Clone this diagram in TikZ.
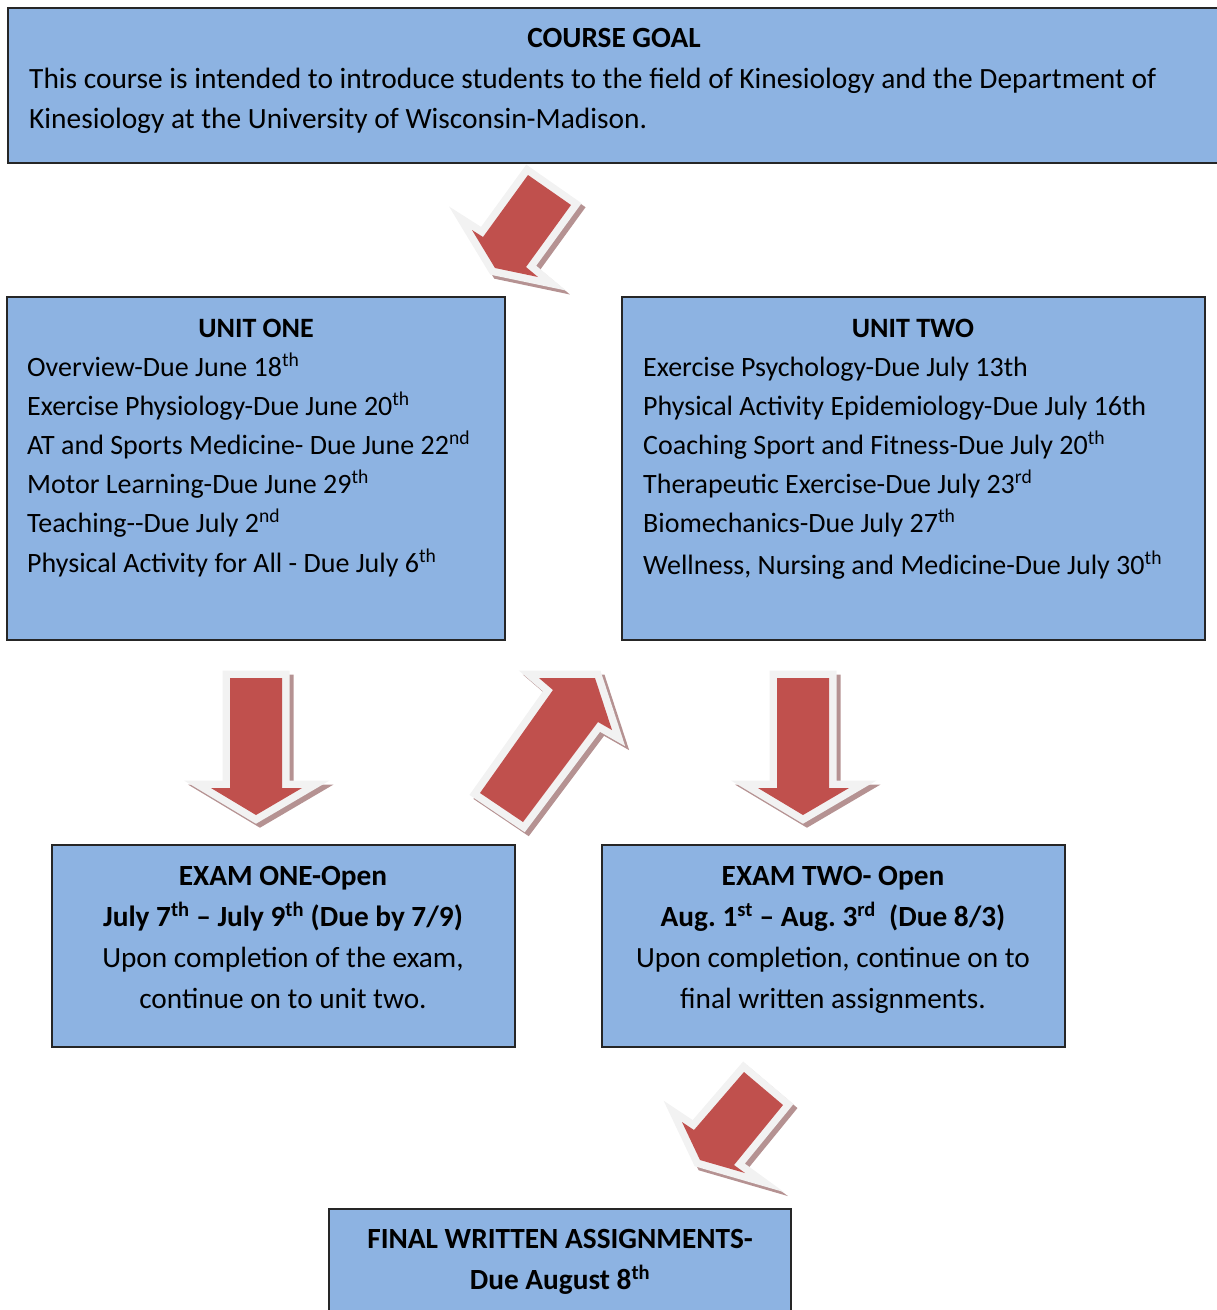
\documentclass[tikz,border=0pt]{standalone}
\usepackage{fontspec}
\setmainfont{Carlito}
\frenchspacing
\definecolor{boxblue}{HTML}{8DB3E2}
\definecolor{arrred}{HTML}{C0504D}
\definecolor{arrrim}{HTML}{F2F2F2}
\definecolor{arrshade}{RGB}{181,146,146}
\tikzset{
  box/.style={draw=black!85,line width=1.8pt,fill=boxblue,inner sep=0pt},
  txt/.style={inner sep=0pt,anchor=base west,font=\fontsize{28}{40}\selectfont},
  ctxt/.style={inner sep=0pt,anchor=base,font=\fontsize{29.3}{40}\selectfont},
  btxt/.style={ctxt,font=\fontsize{29.3}{40}\selectfont\bfseries},
  bigtxt/.style={txt,font=\fontsize{29.4}{40}\selectfont},
  shade/.style={draw=arrshade,fill=arrshade,line width=15pt,line join=miter,shift={(4,4)}},
  rim/.style={draw=arrrim,fill=arrrim,line width=15pt,line join=miter},
  body/.style={fill=arrred}
}
\newcommand{\fatarrow}[1]{%
  \draw[shade] #1;
  \draw[rim] #1;
  \fill[body] #1;
}
\begin{document}
\begin{tikzpicture}[x=1pt,y=-1pt]
\useasboundingbox (0,0) rectangle (1217,1310);
% boxes
\node[box,minimum width=1214,minimum height=155] (goal) at (615,85.5) {};
\node[box,minimum width=498,minimum height=343] (unitone) at (256,468.5) {};
\node[box,minimum width=583,minimum height=343] (unittwo) at (913.5,468.5) {};
\node[box,minimum width=463,minimum height=202] (examone) at (283.5,946) {};
\node[box,minimum width=463,minimum height=202] (examtwo) at (833.5,946) {};
\node[box,minimum width=462,minimum height=121] (final) at (560,1269.5) {};
% course goal
\node[btxt] (goaltitle) at (614,47) {COURSE GOAL};
\node[bigtxt] (goall1) at (29,88) {This course is intended to introduce students to the field of Kinesiology and the Department of};
\node[bigtxt] (goall2) at (29,128) {Kinesiology at the University of Wisconsin-Madison.};
% unit one
\node[btxt,font=\fontsize{28}{40}\selectfont\bfseries] (u1title) at (256,337) {UNIT ONE};
\node[txt] (u1l1) at (27,376) {Overview-Due June 18\textsuperscript{th}};
\node[txt] (u1l2) at (27,415) {Exercise Physiology-Due June 20\textsuperscript{th}};
\node[txt] (u1l3) at (27,454) {AT and Sports Medicine- Due June 22\textsuperscript{nd}};
\node[txt] (u1l4) at (27,493) {Motor Learning-Due June 29\textsuperscript{th}};
\node[txt] (u1l5) at (27,532) {Teaching-{}-Due July 2\textsuperscript{nd}};
\node[txt] (u1l6) at (27,572) {Physical Activity for All - Due July 6\textsuperscript{th}};
% unit two
\node[btxt,font=\fontsize{28}{40}\selectfont\bfseries] (u2title) at (913,337) {UNIT TWO};
\node[txt] (u2l1) at (643,376) {Exercise Psychology-Due July 13th};
\node[txt] (u2l2) at (643,415) {Physical Activity Epidemiology-Due July 16th};
\node[txt] (u2l3) at (643,454) {Coaching Sport and Fitness-Due July 20\textsuperscript{th}};
\node[txt] (u2l4) at (643,493) {Therapeutic Exercise-Due July 23\textsuperscript{rd}};
\node[txt] (u2l5) at (643,532) {Biomechanics-Due July 27\textsuperscript{th}};
\node[txt] (u2l6) at (643,574) {Wellness, Nursing and Medicine-Due July 30\textsuperscript{th}};
% exams
\node[btxt] (e1l1) at (283,885) {EXAM ONE-Open};
\node[btxt] (e1l2) at (283,926) {July 7\textsuperscript{th} -- July 9\textsuperscript{th} (Due by 7/9)};
\node[ctxt] (e1l3) at (283,967) {Upon completion of the exam,};
\node[ctxt] (e1l4) at (283,1008) {continue on to unit two.};
\node[btxt] (e2l1) at (833,885) {EXAM TWO- Open};
\node[btxt] (e2l2) at (833,926) {Aug. 1\textsuperscript{st} -- Aug. 3\textsuperscript{rd}\ \ (Due 8/3)};
\node[ctxt] (e2l3) at (833,967) {Upon completion, continue on to};
\node[ctxt] (e2l4) at (833,1008) {final written assignments.};
% final
\node[btxt] (fl1) at (560,1248) {FINAL WRITTEN ASSIGNMENTS-};
\node[btxt] (fl2) at (560,1289) {Due August 8\textsuperscript{th}};
% arrows
\fatarrow{(528,175) -- (571,205) -- (526,267) -- (538,277) -- (495,268) -- (472,230) -- (483,237) -- cycle}
\fatarrow{(230,678) -- (282,678) -- (282,788) -- (302,788) -- (256,815) -- (211,788) -- (230,788) -- cycle}
\fatarrow{(480,793) -- (523,822) -- (598,722) -- (612,730) -- (595,678) -- (539,678) -- (553,690) -- cycle}
\fatarrow{(777,678) -- (829,678) -- (829,788) -- (849,788) -- (803,815) -- (758,788) -- (777,788) -- cycle}
\fatarrow{(744,1072) -- (783,1105) -- (734,1165) -- (745,1173) -- (700,1160) -- (682,1122) -- (694,1130) -- cycle}
\end{tikzpicture}
\end{document}
